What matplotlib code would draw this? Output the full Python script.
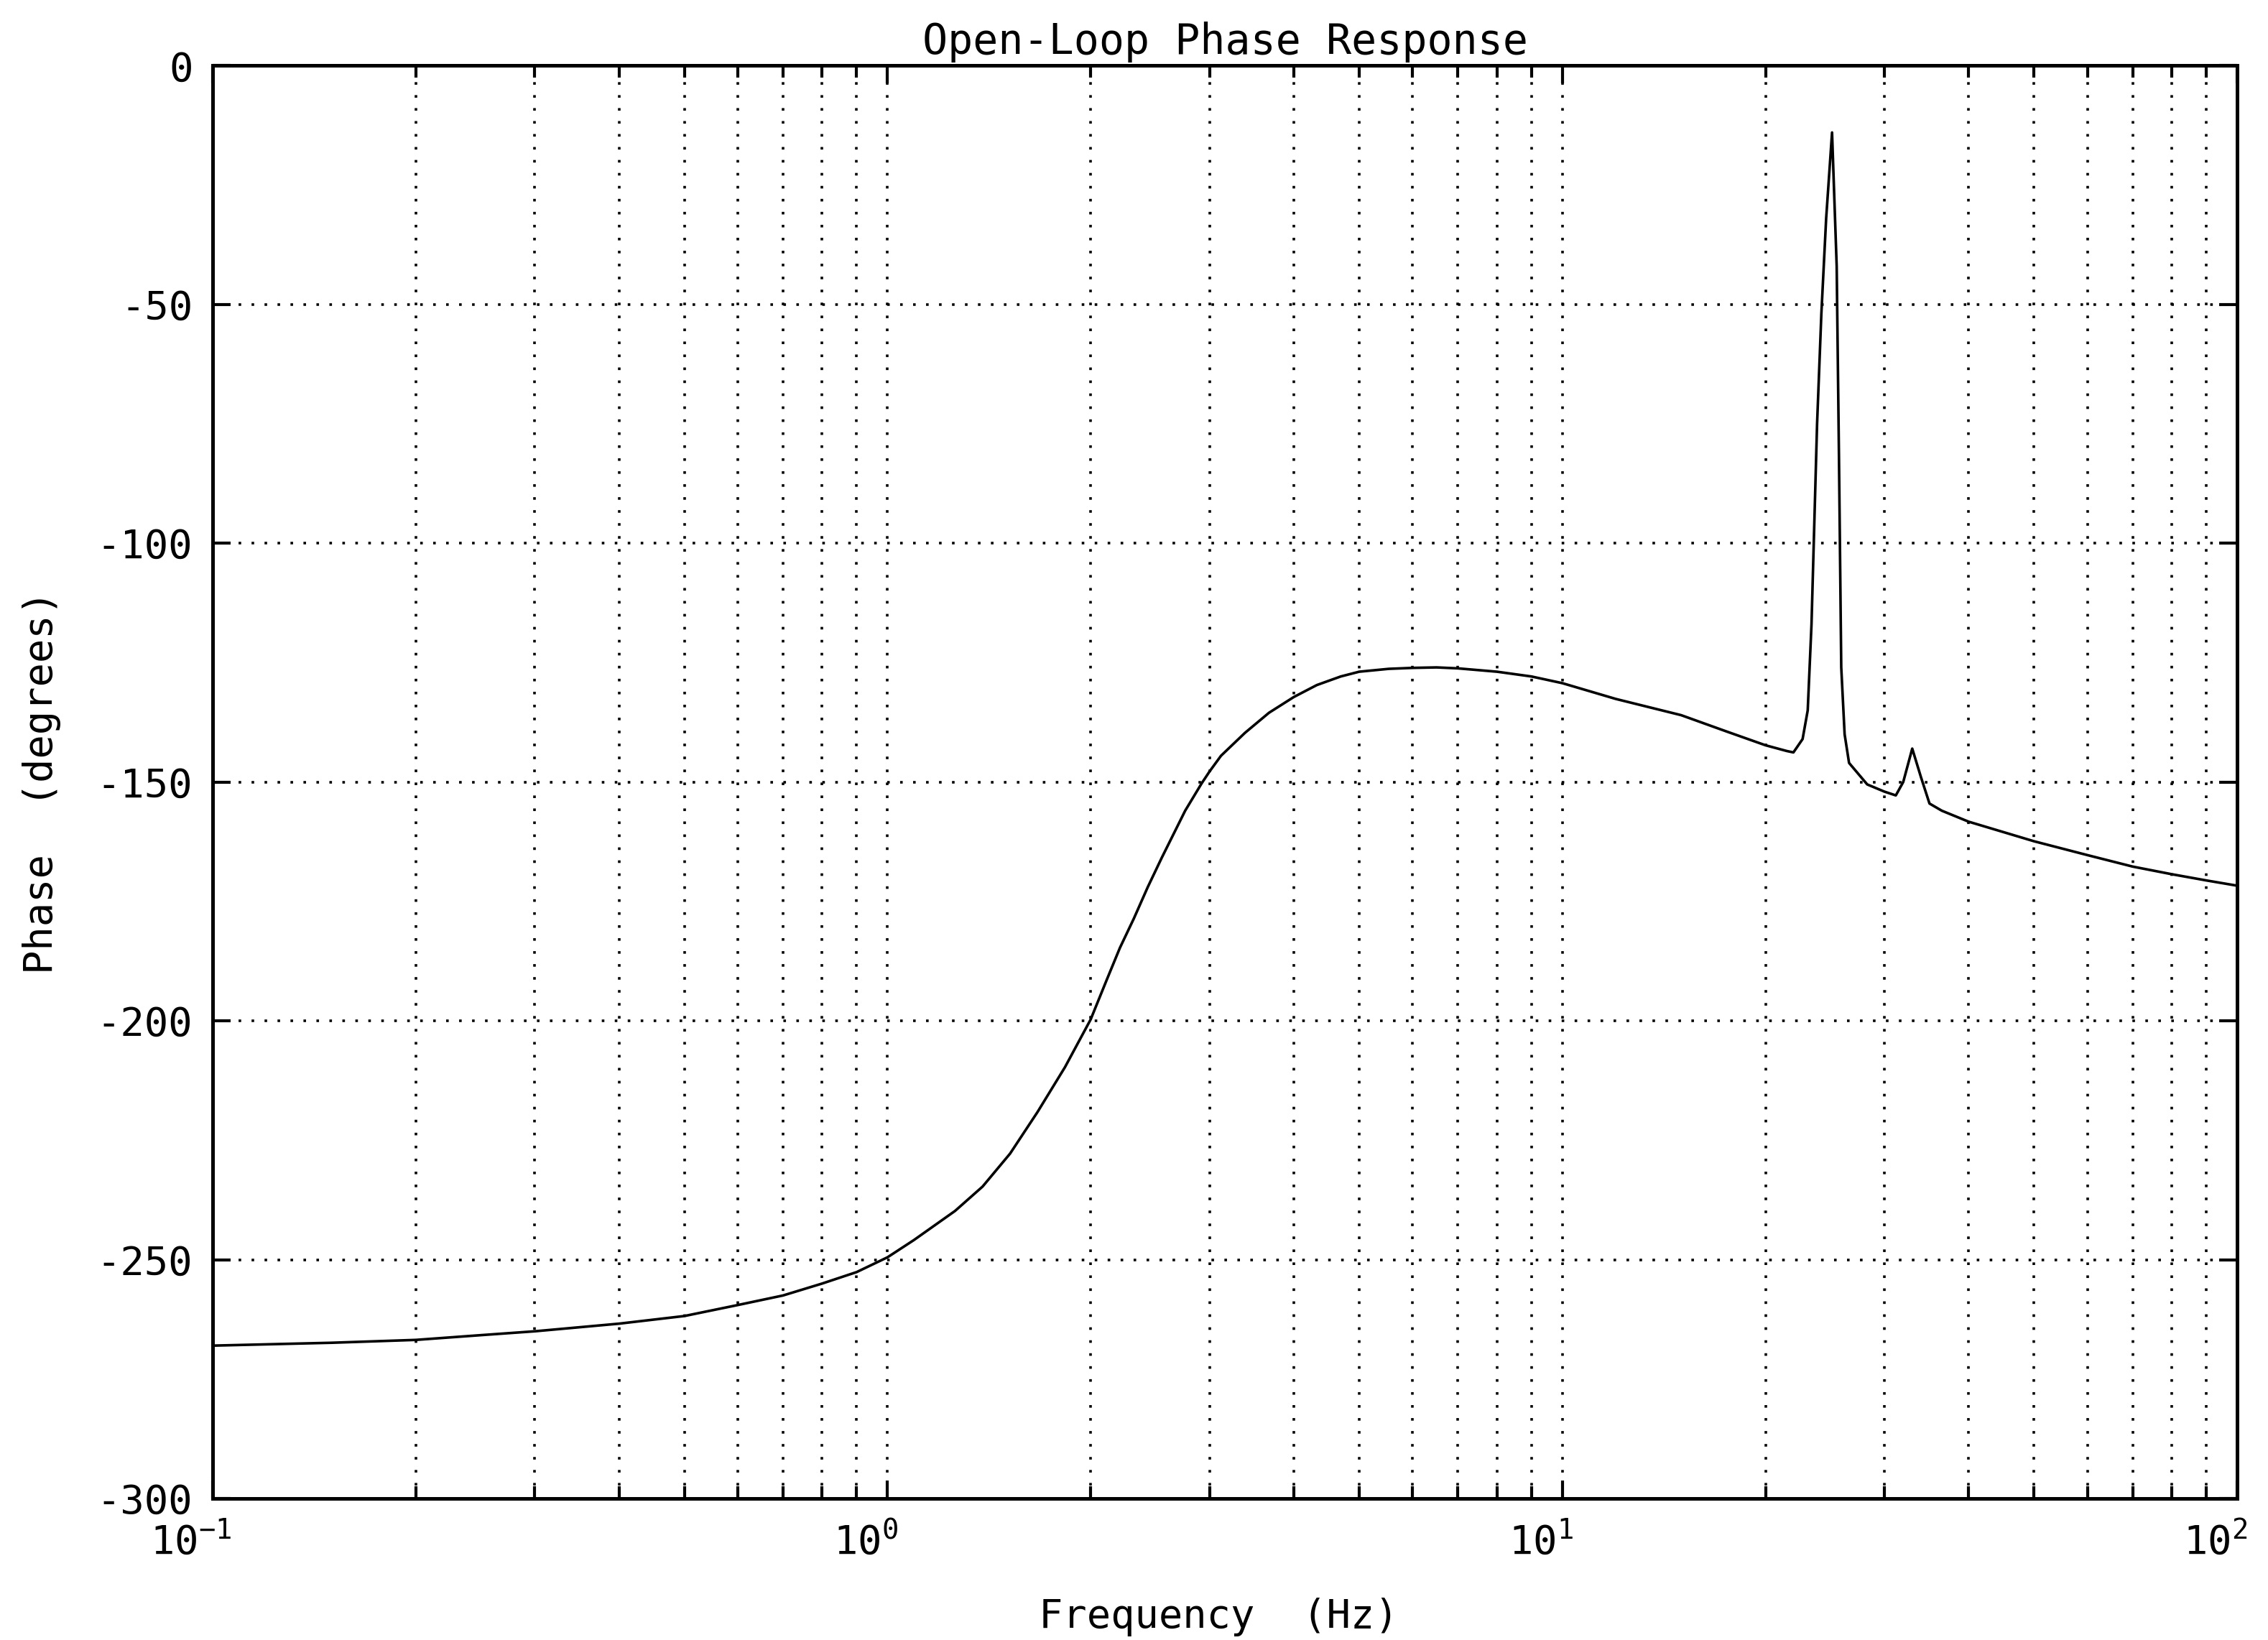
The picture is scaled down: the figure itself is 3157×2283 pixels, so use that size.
import matplotlib
matplotlib.use('Agg')
import matplotlib.pyplot as plt
import matplotlib.transforms as mtransforms

# Frequency points (Hz) and open-loop phase (degrees)
freq_hz = [0.1, 0.15, 0.2, 0.25, 0.3, 0.4, 0.5, 0.6, 0.7, 0.8,
           0.9, 1.0, 1.094, 1.259, 1.383, 1.519, 1.668, 1.832, 2.0, 2.11,
           2.21, 2.317, 2.43, 2.55, 2.761, 2.92, 3.0, 3.12, 3.386, 3.675,
           4.0, 4.326, 4.694, 5.0, 5.53, 6.0, 6.51, 7.0, 8.0, 9.0,
           10.0, 12.0, 15.0, 17.5, 20.0, 21.5, 22.0, 22.7, 23.1, 23.4,
           23.85, 24.2, 24.6, 25.1, 25.5, 25.7, 25.9, 26.2, 26.6, 28.3,
           30.0, 31.2, 32.0, 33.0, 34.0, 35.0, 36.5, 40.0, 50.0, 60.0,
           70.0, 80.0, 90.0, 100.0]
phase_deg = [-268.0, -267.4, -266.8, -265.8, -265.0, -263.4, -261.8, -259.5, -257.5, -255.0,
             -252.6, -249.5, -245.9, -239.8, -234.7, -227.8, -219.1, -209.7, -199.7, -191.6,
             -184.7, -178.6, -172.0, -165.8, -156.0, -150.3, -147.8, -144.5, -139.7, -135.5,
             -132.2, -129.7, -127.9, -126.9, -126.3, -126.1, -126.0, -126.2, -126.9, -127.9,
             -129.3, -132.6, -136.0, -139.4, -142.3, -143.5, -143.8, -141.0, -135.0, -117.0,
             -75.0, -52.0, -32.0, -14.0, -42.0, -82.0, -126.0, -140.0, -146.0, -150.5,
             -152.0, -152.8, -150.0, -143.0, -149.0, -154.5, -156.0, -158.3, -162.4, -165.3,
             -167.7, -169.3, -170.6, -171.7]

y_ticks = [-300, -250, -200, -150, -100, -50, 0]

plt.rcParams['font.family'] = ['DejaVu Sans Mono']
plt.rcParams['mathtext.fontset'] = 'custom'
plt.rcParams['mathtext.rm'] = 'DejaVu Sans Mono'
plt.rcParams['mathtext.it'] = 'DejaVu Sans Mono'
plt.rcParams['axes.unicode_minus'] = False

fig = plt.figure(figsize=(15.785, 11.415), dpi=200)
ax = fig.add_axes([0.0938, 0.0863, 0.8926, 0.8737])

ax.semilogx(freq_hz, phase_deg, color='black', linewidth=1.3)

ax.set_xlim(0.1, 100)
ax.set_ylim(-300, 0)
ax.set_yticks(y_ticks)
ax.set_yticklabels([str(v) for v in y_ticks])

# dotted grid at decades, sub-decades and every 50 degrees
dots = (0, (1, 4))
ax.grid(True, which='major', axis='both', color='black', linestyle=dots, linewidth=1.3)
ax.grid(True, which='minor', axis='x', color='black', linestyle=dots, linewidth=1.3)

ax.tick_params(which='both', direction='in', top=True, right=True,
               labelsize=20, colors='black', width=1.5)
ax.tick_params(which='major', length=9)
ax.tick_params(which='minor', length=6)
ax.tick_params(axis='y', pad=10)
ax.tick_params(axis='x', pad=12)

# decade labels sit a little left of their ticks
shift = mtransforms.ScaledTranslation(-0.15, 0, fig.dpi_scale_trans)
for lbl in ax.get_xticklabels():
    lbl.set_transform(lbl.get_transform() + shift)

for side in ax.spines.values():
    side.set_linewidth(1.8)

ax.set_title('Open-Loop Phase Response', fontsize=21, pad=6)
ax.set_xlabel('Frequency  (Hz)', fontsize=20)
ax.set_ylabel('Phase  (degrees)', fontsize=20)
ax.xaxis.set_label_coords(0.497, -0.069)
ax.yaxis.set_label_coords(-0.075, 0.5)

fig.savefig('out.png', dpi=200)
